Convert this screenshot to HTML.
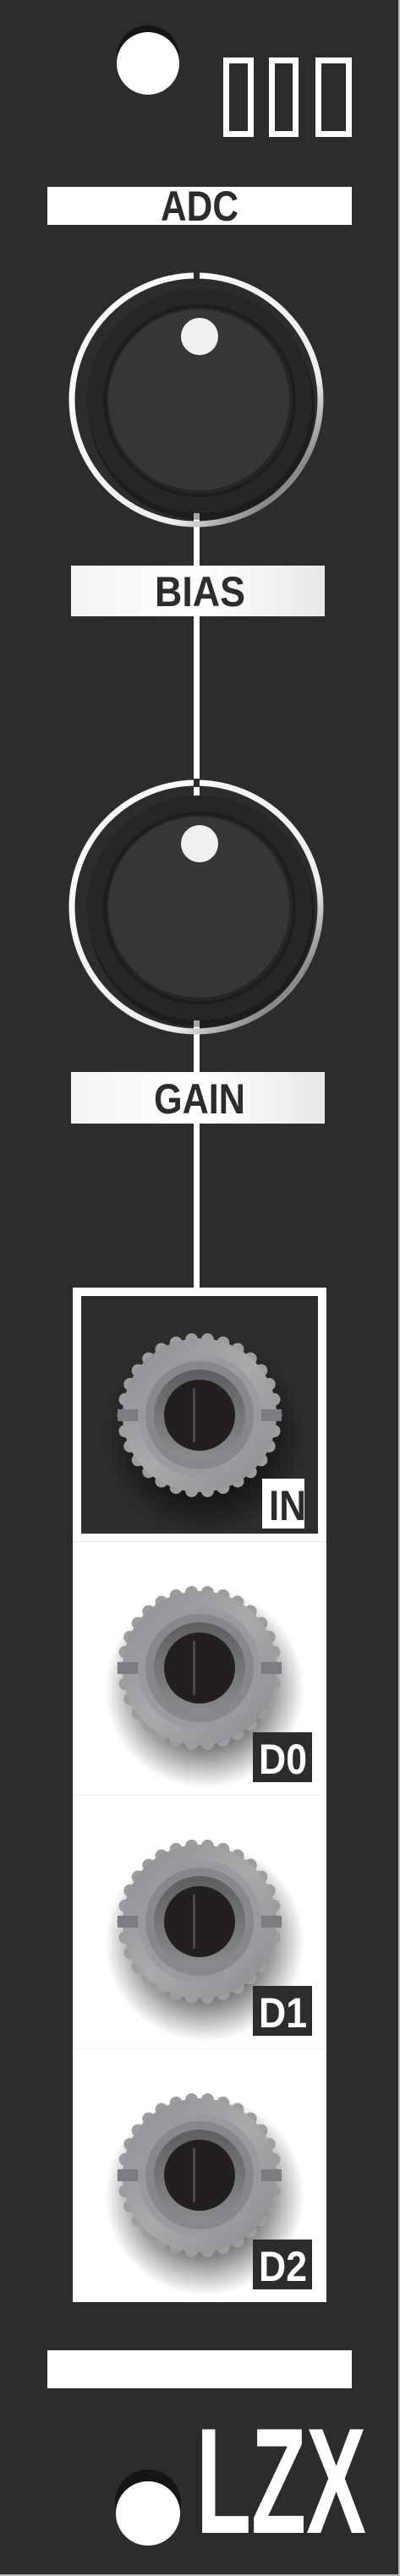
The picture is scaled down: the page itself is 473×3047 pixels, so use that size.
<!DOCTYPE html>
<html><head><meta charset="utf-8"><style>
html,body{margin:0;padding:0;background:#2b2d2c;}
svg{display:block}
text{font-family:"Liberation Sans",sans-serif;font-weight:bold}
</style></head><body>
<svg id="panel" width="473" height="3047" viewBox="0 0 473 3047" xmlns="http://www.w3.org/2000/svg">
<defs>
<radialGradient id="jshadow" cx="0.5" cy="0.5" r="0.5"><stop offset="0.6" stop-color="#000" stop-opacity="0.5"/><stop offset="1" stop-color="#000" stop-opacity="0"/></radialGradient>
<linearGradient id="jmetal" x1="0" y1="0" x2="1" y2="1"><stop offset="0" stop-color="#8c8d90"/><stop offset="0.5" stop-color="#a9aaac"/><stop offset="1" stop-color="#8a8b8e"/></linearGradient>
<linearGradient id="jinner" x1="0" y1="0" x2="0" y2="1"><stop offset="0" stop-color="#5d5e60"/><stop offset="1" stop-color="#8a8b8d"/></linearGradient>
<linearGradient id="ring" x1="0" y1="0" x2="1" y2="1"><stop offset="0" stop-color="#fff"/><stop offset="0.7" stop-color="#eee"/><stop offset="0.85" stop-color="#888"/><stop offset="1" stop-color="#eee"/></linearGradient>
<linearGradient id="barg" x1="0" y1="0" x2="1" y2="0"><stop offset="0" stop-color="#f4f4f4"/><stop offset="0.5" stop-color="#ffffff"/><stop offset="1" stop-color="#e8e8e8"/></linearGradient>
</defs>
<rect x="0" y="0" width="473" height="3047" fill="#2b2d2c"/>
<rect x="471" y="0" width="2" height="3047" fill="#bdbdbd"/>
<rect x="0" y="3045" width="473" height="2" fill="#bdbdbd"/>
<g>
<circle cx="175" cy="67" r="37" fill="#151515"/>
<circle cx="175" cy="75" r="37" fill="#fff"/>
</g>
<g fill="none" stroke="#fff" stroke-width="7">
<rect x="267.5" y="71.5" width="29" height="87"/>
<rect x="321.5" y="71.5" width="28" height="87"/>
<rect x="376.5" y="71.5" width="36" height="87"/>
</g>
<g>
<rect x="56" y="221" width="360" height="45" fill="#fff"/>
<text x="190" y="261" font-size="50" fill="#2b2d2c" textLength="92" lengthAdjust="spacingAndGlyphs">ADC</text>
</g>
<rect x="229" y="600" width="7" height="930" fill="#fff"/>
<g id="knobs"></g>
<g>
<rect x="84" y="669" width="300" height="60" fill="url(#barg)"/>
<text x="183" y="717" font-size="50" fill="#2b2d2c" textLength="107" lengthAdjust="spacingAndGlyphs">BIAS</text>
</g>
<g>
<rect x="84" y="1268" width="300" height="61" fill="url(#barg)"/>
<text x="182" y="1317" font-size="50" fill="#2b2d2c" textLength="108" lengthAdjust="spacingAndGlyphs">GAIN</text>
</g>
<g>
<rect x="86" y="1523" width="300" height="1200" fill="#fff"/>
<rect x="96" y="1533" width="280" height="281" fill="#2b2d2c"/>
<rect x="86" y="1823" width="300" height="1" fill="#e2e2e2"/>
<rect x="86" y="2123" width="300" height="1" fill="#f2f2f2"/>
<rect x="86" y="2423" width="300" height="1" fill="#f2f2f2"/>
</g>
<g id="jacks"></g>
<g><rect x="56" y="2780" width="360" height="45" fill="#fff"/></g>
<g>
<circle cx="175" cy="2960" r="39" fill="#151515"/>
<circle cx="175" cy="2973" r="38" fill="#fff"/>
</g>
<text x="232" y="2996" font-size="178" fill="#fff" textLength="201" lengthAdjust="spacingAndGlyphs">LZX</text>
</svg>
<script>
const NS='http://www.w3.org/2000/svg';
function mk(tag,attrs,parent){const e=document.createElementNS(NS,tag);for(const k in attrs)e.setAttribute(k,attrs[k]);parent.appendChild(e);return e;}
const knobNames=['bias-knob','gain-knob'];
const knobY=[473,1073];
const kg=document.getElementById('knobs');
knobY.forEach((cy,i)=>{
  const g=mk('g',{},kg);
  
  
  mk('circle',{cx:232,cy:cy,r:147,fill:'none',stroke:'url(#ring)','stroke-width':7},g);
  mk('rect',{x:229,y:cy-152,width:7,height:10,fill:'#2b2d2c'},g);
  mk('circle',{cx:238,cy:cy+8,r:134,fill:'#000',opacity:0.35},g);
  mk('circle',{cx:236,cy:cy+1,r:133,fill:'#272526'},g);
  mk('circle',{cx:236,cy:cy+1,r:112,fill:'none',stroke:'#1e1c1d','stroke-width':4},g);
  mk('circle',{cx:235,cy:cy,r:107,fill:'#363636'},g);
  mk('circle',{cx:236,cy:cy-75,r:22,fill:'#f0f0f0'},g);
});
const jackLabels=['IN','D0','D1','D2'];
const jackY=[1674,1973,2273,2573];
const jg=document.getElementById('jacks');
jackY.forEach((cy,i)=>{
  const cx=236;
  const g=mk('g',{},jg);
  
  
  mk('circle',{cx:cx+6,cy:cy+24,r:118,fill:'url(#jshadow)'},g);
  for(let a=0;a<30;a++){const t=a/30*Math.PI*2;mk('circle',{cx:cx+Math.cos(t)*90,cy:cy+Math.sin(t)*90,r:7.5,fill:'#9c9d9f'},g);}
  mk('circle',{cx:cx,cy:cy,r:91,fill:'url(#jmetal)'},g);
  mk('rect',{x:cx-97,y:cy-7,width:194,height:14,fill:'#7c7d80'},g);
  mk('circle',{cx:cx,cy:cy,r:73,fill:'#9a9b9e'},g);
  mk('circle',{cx:cx,cy:cy,r:64,fill:'#87888b'},g);
  mk('circle',{cx:cx,cy:cy,r:54,fill:'url(#jinner)'},g);
  mk('circle',{cx:cx,cy:cy,r:42,fill:'#231f20'},g);
  mk('rect',{x:cx-8,y:cy-32,width:3,height:64,fill:'#4a4748'},g);
  const lab=mk('g',{},g);
  
  
  if(i===0){
    mk('rect',{x:310,y:1749,width:50,height:59,fill:'#fff'},lab);
    const t=mk('text',{x:318,y:1798,'font-size':50,fill:'#2b2d2c',textLength:44,lengthAdjust:'spacingAndGlyphs'},lab);t.textContent='IN';
  } else {
    const ly=cy+76;
    mk('rect',{x:299,y:ly,width:70,height:59,fill:'#2b2d2c'},lab);
    const t=mk('text',{x:306,y:ly+49,'font-size':50,fill:'#fff',textLength:57,lengthAdjust:'spacingAndGlyphs'},lab);t.textContent=jackLabels[i];
  }
});
</script>
</body></html>
